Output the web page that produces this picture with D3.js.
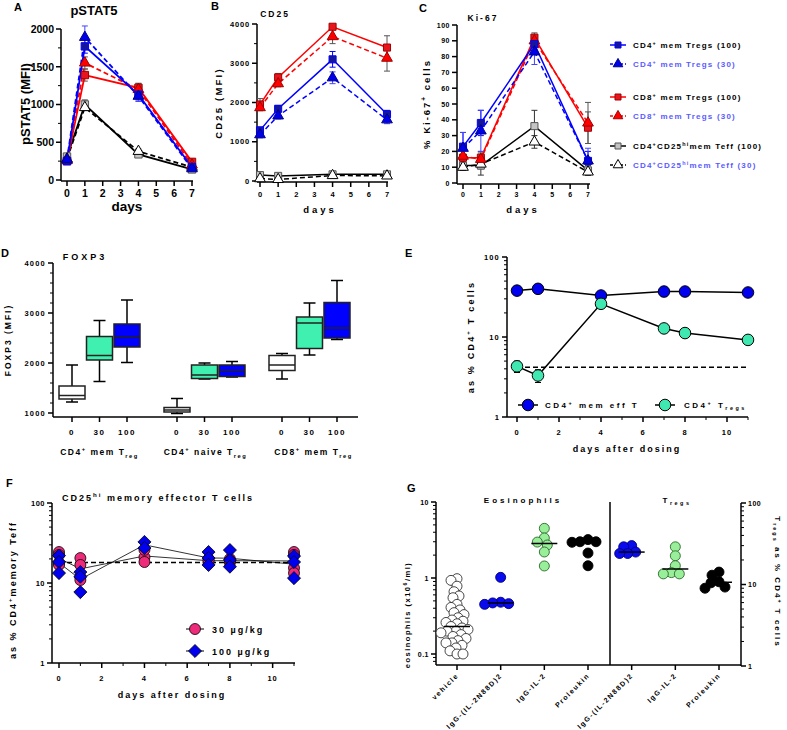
<!DOCTYPE html>
<html>
<head>
<meta charset="utf-8">
<script src="https://cdn.jsdelivr.net/npm/d3@7/dist/d3.min.js"></script>
<style>
html,body{margin:0;padding:0;background:#fff;}
svg{display:block;font-family:"Liberation Sans",Arial,Helvetica,sans-serif;font-weight:bold;}
</style>
</head>
<body>
<svg id="chart" width="787" height="730"></svg>
<script>
// ================= DATA =================
// Panels A-C: days and six series (order: CD4 mem Treg 100, CD4 mem Treg 30, CD8 mem Treg 100, CD8 mem Treg 30, CD4CD25hi Teff 100, CD4CD25hi Teff 30)
const lineDays = [0, 1, 4, 7];
const pstat5Mean = [[250,1770,1130,170],[270,1890,1110,150],[250,1390,1220,240],[260,1550,1200,200],[310,1000,340,140],[280,960,380,170]];
const pstat5Err  = [[30,90,70,20],[30,150,70,20],[20,80,60,20],[20,80,80,20],[40,60,30,20],[30,40,30,20]];
const cd25Mean   = [[1290,1840,3100,1700],[1180,1660,2630,1560],[1950,2640,3930,3400],[1870,2480,3680,3130],[150,130,170,170],[60,40,140,130]];
const cd25Err    = [[80,80,200,100],[80,80,150,100],[150,100,60,300],[80,80,180,330],[30,20,30,30],[20,20,30,30]];
const ki67Mean   = [[23,38,88,14],[22,33,83,14],[16,16,92,35],[17,15,90,38],[11,11,36,8],[10,12,26,7]];
const ki67Err    = [[9,8,4,6],[10,13,8,8],[5,4,3,10],[5,4,3,13],[3,6,10,3],[2,3,4,2]];
const aTicks = [0,500,1000,1500,2000];
const bTicks = [0,1000,2000,3000,4000];
const cTicks = [0,10,20,30,40,50,60,70,80,90,100];

// Panel D: FOXP3 box plots [min, q1, median, q3, max]
const foxGroups = ["CD4+ mem Treg","CD4+ naive Treg","CD8+ mem Treg"];
const foxDoses = ["0","30","100"];
const foxBoxes = [
  [[1220,1280,1350,1540,1960],[1630,2060,2150,2530,2850],[2010,2320,2520,2780,3260]],
  [[990,1020,1060,1110,1290],[1680,1690,1760,1960,2000],[1720,1730,1850,1960,2030]],
  [[1680,1850,1960,2150,2190],[2160,2290,2800,2920,3200],[2470,2500,2700,3210,3650]]
];
const dTicks = [1000,2000,3000,4000];

// Panel E
const eDays = [0,1,4,7,8,11];
const eMemEff = [38,40,33,37,37,36];
const eMemEffErr = [1.5,1.5,1,5,1,1];
const eTregs = [4.3,3.3,26,12.8,11.2,9.2];
const eTregsErr = [0.7,0.6,1,0.5,0.4,0.4];
const eBaseline = 4.2;
const eXTicks = [0,2,4,6,8,10];

// Panel F: individual values per day
const fDays = [0,1,4,7,8,11];
const f30 = [[24.4,22.4,17.8,16.8],[20.5,16.8,11.9,10.9],[21,18.3,26],[20,18,19],[20,18,19],[24.4,22.4,15.4,13.3]];
const f100 = [[22,18.3,13.3],[13.7,12,7.7],[32.6,27.4],[24.4,20.5,16.8],[25.8,19.4,16],[21.7,18.3,11.5]];
const fBaseline = 18;

// Panel G
const gCategories = ["vehicle","IgG-(IL-2N88D)2","IgG-IL-2","Proleukin","IgG-(IL-2N88D)2 ","IgG-IL-2 ","Proleukin "];
const eosVehicle = [0.98,0.93,0.78,0.66,0.58,0.55,0.45,0.41,0.38,0.35,0.33,0.3,0.28,0.27,0.26,0.25,0.23,0.22,0.21,0.2,0.2,0.19,0.18,0.17,0.16,0.15,0.14,0.14,0.13,0.12,0.11,0.1,0.1];
const eosN88D = [1.02,0.48,0.47,0.46,0.45];
const eosIL2 = [4.5,3.36,2.97,2.72,2.2,1.44];
const eosProleukin = [3.2,3.0,3.0,2.95,2.13,1.45];
const tregN88D = [30,29,25,24,24];
const tregIL2 = [29,22.5,17,14,13.5,13.5];
const tregProleukin = [14.2,13,10.8,10.5,9.3,9.0];

// ================= HELPERS =================
const svg = d3.select("#chart");
function ln(g,x1,y1,x2,y2,w=1.5,c="#000",dash=null){
  return g.append("line").attr("x1",x1).attr("y1",y1).attr("x2",x2).attr("y2",y2)
    .attr("stroke",c).attr("stroke-width",w).attr("stroke-dasharray",dash);
}
function rich(t,parts,fs){
  let shift=0;
  parts.forEach(p=>{
    const s=p[0], k=p[1];
    const target = k==="sup" ? -0.42*fs : (k==="sub" ? 0.3*fs : 0);
    const ts=t.append("tspan").text(s);
    if(target-shift!==0) ts.attr("dy",target-shift);
    if(k) ts.attr("font-size",fs*0.68);
    shift=target;
  });
}
function label(g,x,y,content,fs,o={}){
  const t=g.append("text").attr("x",x).attr("y",y).attr("font-size",fs)
    .attr("text-anchor",o.anchor||"middle").attr("fill",o.fill||"#000");
  if(o.ls) t.style("letter-spacing",o.ls+"px");
  if(o.rot!==undefined) t.attr("transform",`rotate(${o.rot},${x},${y})`);
  if(typeof content==="string") t.text(content); else rich(t,content,fs);
  return t;
}
function yAxis(g,x,scale,majors,minors,fs,o={}){
  const dir=(o.side||"left")==="left"?-1:1;
  const ext=o.ext||scale.range();
  ln(g,x,ext[0],x,ext[1]);
  minors.forEach(v=>ln(g,x,scale(v),x+dir*3,scale(v),1));
  majors.forEach(v=>{
    const y=scale(v); ln(g,x,y,x+dir*5,y);
    label(g,x+dir*7,y+fs*0.36,(o.fmt||String)(v),fs,{anchor:dir<0?"end":"start",ls:o.ls});
  });
}
function xAxis(g,y,scale,majors,minors,fs,o={}){
  const ext=o.ext||scale.range();
  ln(g,ext[0],y,ext[1],y);
  minors.forEach(v=>ln(g,scale(v),y,scale(v),y+3,1));
  majors.forEach(v=>{
    const x=scale(v); ln(g,x,y,x,y+5);
    label(g,x,o.labelY,(o.fmt||String)(v),fs,{ls:o.ls});
  });
}
const symTypes={square:d3.symbolSquare,triangle:d3.symbolTriangle,circle:d3.symbolCircle};
function mark(g,type,x,y,size,fill,stroke,sw=1){
  let d;
  if(type==="diamond"){const h=Math.sqrt(size)/1.6; d=`M0,${-h}L${h},0L0,${h}L${-h},0Z`;}
  else d=d3.symbol().type(symTypes[type]).size(size)();
  g.append("path").attr("d",d).attr("transform",`translate(${x},${y})`)
    .attr("fill",fill).attr("stroke",stroke).attr("stroke-width",sw);
}
function errBar(g,x,y1,y2,c,cap=3,w=1){
  ln(g,x,y1,x,y2,w,c); ln(g,x-cap,y1,x+cap,y1,w,c); ln(g,x-cap,y2,x+cap,y2,w,c);
}
const range=(a,b,s)=>d3.range(a,b+1e-9,s);

// ================= PANELS A-C =================
const lineStyles=[
  {stroke:"#0000ff",fill:"#16169a",ms:"#0000ff",type:"square",dash:false,err:"#0000ff"},
  {stroke:"#0000ff",fill:"#0000e8",ms:"#00008a",type:"triangle",dash:true,err:"#4444ff"},
  {stroke:"#ff0000",fill:"#e8161c",ms:"#a00000",type:"square",dash:false,err:"#555"},
  {stroke:"#ff0000",fill:"#ff0000",ms:"#a00000",type:"triangle",dash:true,err:"#555"},
  {stroke:"#000000",fill:"#c4c4c4",ms:"#555",type:"square",dash:false,err:"#333"},
  {stroke:"#000000",fill:"#ffffff",ms:"#000",type:"triangle",dash:true,err:"#333"}
];
const drawOrder=[4,5,2,3,0,1];
function linePanel(g,xs,ys,vals,errs,o){
  drawOrder.forEach(i=>{
    const st=lineStyles[i];
    lineDays.forEach((d,j)=>errBar(g,xs(d),ys(vals[i][j]-errs[i][j]),ys(vals[i][j]+errs[i][j]),st.err,3,1));
    g.append("path").attr("d",d3.line()(lineDays.map((d,j)=>[xs(d),ys(vals[i][j])])))
      .attr("fill","none").attr("stroke",st.stroke).attr("stroke-width",o.lw)
      .attr("stroke-dasharray",st.dash?o.dash:null);
  });
  drawOrder.forEach(i=>{
    const st=lineStyles[i];
    lineDays.forEach((d,j)=>mark(g,st.type,xs(d),ys(vals[i][j]),st.type==="square"?o.sq:o.tri,st.fill,st.ms,1));
  });
}

// A
{
  const g=svg.append("g");
  const xs=d3.scaleLinear([0,7],[67,192]), ys=d3.scaleLinear([0,2000],[180,29]);
  yAxis(g,61,ys,aTicks,range(250,1750,500),10.5,{ext:[181,29]});
  xAxis(g,181,xs,d3.range(0,8),[],10.5,{ext:[61,193],labelY:197});
  linePanel(g,xs,ys,pstat5Mean,pstat5Err,{lw:1.8,dash:"5,3",sq:55,tri:50});
  label(g,94,15,"pSTAT5",13);
  label(g,127,211,"days",13.5);
  label(g,30,104,"pSTAT5 (MFI)",13,{rot:-90});
  label(g,14,11,"A",11,{anchor:"start"});
}
// B
{
  const g=svg.append("g");
  const xs=d3.scaleLinear([0,7],[260,387]), ys=d3.scaleLinear([0,4000],[181,24]);
  yAxis(g,257,ys,bTicks,range(500,3500,1000),7.5,{ext:[182,24],ls:0.8});
  xAxis(g,182,xs,d3.range(0,8),[],7.5,{ext:[257,388],labelY:197});
  linePanel(g,xs,ys,cd25Mean,cd25Err,{lw:1.5,dash:"5,3",sq:50,tri:50});
  label(g,275,17,"CD25",8.5,{ls:2});
  label(g,320,213,"days",9.5,{ls:3});
  label(g,222,103,"CD25 (MFI)",9.5,{rot:-90,ls:2.2});
  label(g,211,10,"B",11,{anchor:"start"});
}
// C
{
  const g=svg.append("g");
  const xs=d3.scaleLinear([0,7],[463,588]), ys=d3.scaleLinear([0,100],[183,25]);
  yAxis(g,457,ys,cTicks,[],7,{ext:[184,25],ls:0.5});
  xAxis(g,184,xs,d3.range(0,8),[],7,{ext:[457,590],labelY:197});
  linePanel(g,xs,ys,ki67Mean,ki67Err,{lw:1.5,dash:"5,3",sq:50,tri:50});
  label(g,483,21,"Ki-67",8.5,{ls:2});
  label(g,523,213,"days",9.5,{ls:3});
  label(g,430,104,[["% Ki-67"],["+","sup"],[" cells"]],9.5,{rot:-90,ls:2});
  label(g,419,12,"C",11,{anchor:"start"});
}
// Legend for A-C
{
  const g=svg.append("g");
  const legendLabels=[
    [["CD4"],["+","sup"],[" mem Tregs (100)"]],
    [["CD4"],["+","sup"],[" mem Tregs (30)"]],
    [["CD8"],["+","sup"],["  mem Tregs (100)"]],
    [["CD8"],["+","sup"],["  mem Tregs (30)"]],
    [["CD4"],["+","sup"],["CD25"],["hi","sup"],["mem Teff (100)"]],
    [["CD4"],["+","sup"],["CD25"],["hi","sup"],["mem Teff (30)"]]
  ];
  const ly=[45,64,97,116,146,165];
  legendLabels.forEach((lab,i)=>{
    const st=lineStyles[i];
    ln(g,610,ly[i],626,ly[i],1.5,st.stroke,st.dash?"3,2":null);
    mark(g,st.type,618,ly[i],st.type==="square"?36:40,st.fill,st.ms,1);
    label(g,633,ly[i]+3,lab,8,{anchor:"start",ls:1.2,fill:i%2===0?"#000":"#5b5bff"});
  });
}

// ================= PANEL D =================
{
  const g=svg.append("g");
  const ys=d3.scaleLinear([1000,4000],[413,263]);
  const gx=d3.scalePoint(foxGroups,[99.5,309.5]);
  const dx=d3.scalePoint(foxDoses,[-27.5,27.5]);
  const fills=["#ffffff","#40f0b0","#0000ff"];
  yAxis(g,53,ys,dTicks,range(1200,3800,200).filter(v=>v%1000!==0),7.5,{ext:[417,263],ls:1.2});
  ln(g,53,417,358,417);
  foxGroups.forEach((grp,gi)=>{
    foxDoses.forEach((ds,di)=>{
      const x=gx(grp)+dx(ds), b=foxBoxes[gi][di], w=26;
      ln(g,x,417,x,422);
      label(g,x,435,ds,8,{ls:1.5});
      ln(g,x,ys(b[0]),x,ys(b[4]),1.5);
      ln(g,x-6,ys(b[0]),x+6,ys(b[0]),1.5);
      ln(g,x-6,ys(b[4]),x+6,ys(b[4]),1.5);
      g.append("rect").attr("x",x-w/2).attr("y",ys(b[3])).attr("width",w).attr("height",ys(b[1])-ys(b[3]))
        .attr("fill",fills[di]).attr("stroke","#222").attr("stroke-width",1.5);
      ln(g,x-w/2,ys(b[2]),x+w/2,ys(b[2]),1.5,"#222");
    });
  });
  const gl=[[["CD4"],["+","sup"],[" mem T"],["reg","sub"]],[["CD4"],["+","sup"],[" naive T"],["reg","sub"]],[["CD8"],["+","sup"],[" mem T"],["reg","sub"]]];
  foxGroups.forEach((grp,gi)=>label(g,gx(grp)+[0,1,4][gi],455,gl[gi],8.5,{ls:1.5}));
  label(g,85,260,"FOXP3",9,{ls:3});
  label(g,11,340,"FOXP3 (MFI)",8.5,{rot:-90,ls:2});
  label(g,1,257,"D",11,{anchor:"start"});
}

// ================= PANEL E =================
{
  const g=svg.append("g");
  const xs=d3.scaleLinear([0,11],[517,748]), ys=d3.scaleLog([1,100],[417,257]);
  const minors=[2,3,4,5,6,7,8,9,20,30,40,50,60,70,80,90];
  yAxis(g,507,ys,[1,10,100],minors,7.5,{ext:[417,257],ls:1.2});
  xAxis(g,417,xs,eXTicks,[1,3,5,7,9,11],7.5,{ext:[507,748],labelY:435,ls:1});
  ln(g,xs(0),ys(eBaseline),xs(11),ys(eBaseline),1.5,"#000","5,3");
  eDays.forEach((d,j)=>{
    errBar(g,xs(d),ys(eMemEff[j]-eMemEffErr[j]),ys(eMemEff[j]+eMemEffErr[j]),"#000",3,1);
    errBar(g,xs(d),ys(eTregs[j]-eTregsErr[j]),ys(eTregs[j]+eTregsErr[j]),"#000",3,1);
  });
  const lg=d3.line();
  g.append("path").attr("d",lg(eDays.map((d,j)=>[xs(d),ys(eMemEff[j])]))).attr("fill","none").attr("stroke","#000").attr("stroke-width",1.5);
  g.append("path").attr("d",lg(eDays.map((d,j)=>[xs(d),ys(eTregs[j])]))).attr("fill","none").attr("stroke","#000").attr("stroke-width",1.5);
  eDays.forEach((d,j)=>{
    mark(g,"circle",xs(d),ys(eMemEff[j]),105,"#0000ee","#000",1);
    mark(g,"circle",xs(d),ys(eTregs[j]),105,"#3fe8b0","#000",1);
  });
  // legend
  ln(g,518,405,538,405,1.5); mark(g,"circle",528,405,105,"#0000ee","#000",1);
  label(g,545,408,[["CD4"],["+","sup"],[" mem eff T"]],8,{anchor:"start",ls:2.5});
  ln(g,655,405,675,405,1.5); mark(g,"circle",665,405,105,"#3fe8b0","#000",1);
  label(g,684,408,[["CD4"],["+","sup"],[" T"],["regs","sub"]],8,{anchor:"start",ls:2.5});
  label(g,627,452,"days after dosing",9,{ls:2});
  label(g,474,337,[["as % CD4"],["+","sup"],[" T cells"]],9,{rot:-90,ls:2.2});
  label(g,405,257,"E",11,{anchor:"start"});
}

// ================= PANEL F =================
{
  const g=svg.append("g");
  const xs=d3.scaleLinear([0,11],[59,294]), ys=d3.scaleLog([1,100],[663,503]);
  const minors=[2,3,4,5,6,7,8,9,20,30,40,50,60,70,80,90];
  yAxis(g,52,ys,[1,10,100],minors,7.5,{ext:[663,503],ls:0.5});
  xAxis(g,663,xs,eXTicks,[1,3,5,7,9,11],7.5,{ext:[52,295],labelY:681,ls:1});
  ln(g,xs(0),ys(fBaseline),xs(11),ys(fBaseline),1.5,"#000","5,3");
  const lg=d3.line();
  g.append("path").attr("d",lg(fDays.map((d,j)=>[xs(d),ys(d3.mean(f30[j]))]))).attr("fill","none").attr("stroke","#000").attr("stroke-width",0.8);
  g.append("path").attr("d",lg(fDays.map((d,j)=>[xs(d),ys(d3.mean(f100[j]))]))).attr("fill","none").attr("stroke","#000").attr("stroke-width",0.8);
  fDays.forEach((d,j)=>f30[j].forEach(v=>mark(g,"circle",xs(d),ys(v),95,"#ee2a7b","#000",0.8)));
  fDays.forEach((d,j)=>f100[j].forEach(v=>mark(g,"diamond",xs(d),ys(v),110,"#0000ee","#000",0.8)));
  // legend
  ln(g,186,629,204,629,1); mark(g,"circle",195,629,95,"#ee2a7b","#000",0.8);
  label(g,212,633,"30 µg/kg",9,{anchor:"start",ls:2});
  ln(g,186,651,204,651,1); mark(g,"diamond",195,651,110,"#0000ee","#000",0.8);
  label(g,212,655,"100 µg/kg",9,{anchor:"start",ls:2});
  label(g,172,698,"days after dosing",9,{ls:2});
  label(g,158,501,[["CD25"],["hi","sup"],[" memory effector T cells"]],9,{ls:2});
  label(g,16,590,[["as % CD4"],["+","sup"],["memory Teff"]],9,{rot:-90,ls:2});
  label(g,6,487,"F",11,{anchor:"start"});
}

// ================= PANEL G =================
{
  const g=svg.append("g");
  const xs=d3.scalePoint(gCategories,[457,719]);
  const yl=d3.scaleLog([0.1,10],[654,502]);
  const yr=d3.scaleLog([1,100],[666,503]);
  const lminors=[0.2,0.3,0.4,0.5,0.6,0.7,0.8,0.9,2,3,4,5,6,7,8,9,0.08,0.09];
  const rminors=[2,3,4,5,6,7,8,9,20,30,40,50,60,70,80,90];
  yAxis(g,436,yl,[0.1,1,10],lminors,7,{ext:[665,502],ls:0.5});
  yAxis(g,741,yr,[1,10,100],rminors,7,{ext:[666,503],side:"right",ls:0.5});
  ln(g,436,665,741,665);
  ln(g,610,502,610,665,1.5);
  gCategories.forEach(c=>{
    const x=xs(c); ln(g,x,665,x,670);
    label(g,x+2,676,c.trim(),7,{anchor:"end",rot:-45,ls:1.5});
  });
  function swarm(vals,ys,cx,r,fill,stroke,sep){
    const placed=[];
    const sorted=vals.slice().sort((a,b)=>b-a);
    sorted.forEach(v=>{
      const y=ys(v); let off=0;
      for(let k=0;k<200;k++){
        const o=(k%2===0?1:-1)*Math.ceil(k/2);
        if(placed.every(p=>Math.hypot(p[0]-(cx+o),p[1]-y)>=r*sep)){off=o;break;}
      }
      placed.push([cx+off,y]);
    });
    placed.forEach(p=>mark(g,"circle",p[0],p[1],Math.PI*r*r,fill,stroke,0.9));
    const m=d3.median(vals);
    ln(g,cx-13,ys(m),cx+13,ys(m),1.5);
  }
  swarm(eosVehicle,yl,xs(gCategories[0]),5,"#ffffff","#333",1.2);
  swarm(eosN88D,yl,xs(gCategories[1]),5,"#0a0aee","#00007a",1.5);
  swarm(eosIL2,yl,xs(gCategories[2]),5,"#99ee99","#2a6a2a",1.5);
  swarm(eosProleukin,yl,xs(gCategories[3]),5,"#000000","#000",1.5);
  swarm(tregN88D,yr,xs(gCategories[4]),5,"#0a0aee","#00007a",1.5);
  swarm(tregIL2,yr,xs(gCategories[5]),5,"#99ee99","#2a6a2a",1.5);
  swarm(tregProleukin,yr,xs(gCategories[6]),5,"#000000","#000",1.5);
  label(g,523,503,"Eosinophils",8,{ls:3});
  label(g,677,503,[["T"],["regs","sub"]],8,{ls:2.5});
  label(g,410,615,[["eosinophils (x10"],["6","sup"],["/ml)"]],7.5,{rot:-90,ls:1.5});
  label(g,775,582,[["T"],["regs","sub"],[" as % CD4"],["+","sup"],[" T cells"]],8,{rot:90,ls:2});
  label(g,407,492,"G",11,{anchor:"start"});
}
</script>
</body>
</html>
